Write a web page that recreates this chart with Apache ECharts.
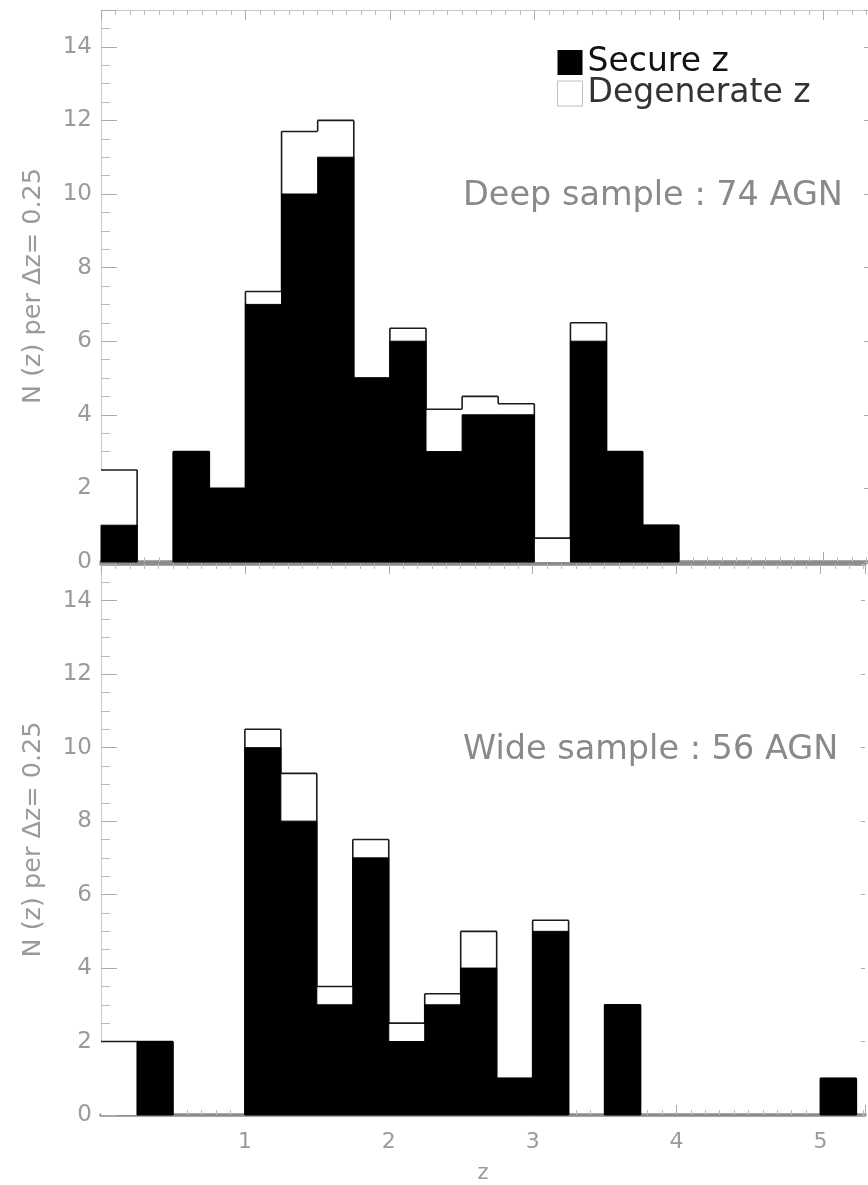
<!DOCTYPE html>
<html>
<head>
<meta charset="utf-8">
<script src="https://cdn.jsdelivr.net/npm/echarts@6/dist/echarts.min.js"></script>
<style>
  html, body { margin: 0; padding: 0; background: #fff; }
  #chart { width: 868px; height: 1185px; }
</style>
</head>
<body>
<div id="chart"></div>
<script>
// Redshift bins (left edges), width 0.25
const BIN_WIDTH = 0.25;
const zBinStart = [0, 0.25, 0.5, 0.75, 1.0, 1.25, 1.5, 1.75, 2.0, 2.25, 2.5,
                   2.75, 3.0, 3.25, 3.5, 3.75, 4.0, 4.25, 4.5, 4.75, 5.0, 5.25];

// Deep sample: secure redshifts and secure + degenerate total per bin
const deepSecure = [1, 0, 3, 2, 7, 10, 11, 5, 6, 3, 4, 4, 0, 6, 3, 1, 0, 0, 0, 0, 0, 0];
const deepTotal  = [2.5, 0, 3, 2, 7.35, 11.7, 12, 5, 6.35, 4.15, 4.5, 4.3, 0.65, 6.5, 3, 1, 0, 0, 0, 0, 0, 0];

// Wide sample
const wideSecure = [0, 2, 0, 0, 10, 8, 3, 7, 2, 3, 4, 1, 5, 0, 3, 0, 0, 0, 0, 0, 1, 0];
const wideTotal  = [2, 2, 0, 0, 10.5, 9.3, 3.5, 7.5, 2.5, 3.3, 5, 1, 5.3, 0, 3, 0, 0, 0, 0, 0, 1, 0];

// Axis tick labels
const xTickLabels = ['1', '2', '3', '4', '5'];
const yTickLabels = ['0', '2', '4', '6', '8', '10', '12', '14'];

const panelTitles = ['Deep sample : 74 AGN', 'Wide sample : 56 AGN'];
const yTitle = 'N (z) per \u0394z= 0.25';
const xTitle = 'z';

const X_MAX = 5.31;
const Y_MAX = 15;
const FONT = '"DejaVu Sans", sans-serif';
const OUTLINE = '#1a1a1a';

function securePoints(sec) {
  return sec.map((v, i) => [zBinStart[i], v]);
}
function totalPoints(tot) {
  return tot.map((v, i) => [zBinStart[i], v, i > 0 ? tot[i - 1] : 0]);
}

// Filled black histogram for secure redshifts
function renderSecure(params, api) {
  const x0 = api.value(0), v = api.value(1);
  if (!(v > 0)) return { type: 'group', children: [] };
  const bl = api.coord([x0, 0]);
  const tr = api.coord([x0 + BIN_WIDTH, v]);
  return {
    type: 'rect',
    shape: { x: bl[0], y: tr[1], width: tr[0] - bl[0], height: bl[1] - tr[1] },
    style: { fill: '#000', stroke: '#000', lineWidth: 1 }
  };
}

// Step outline of the full histogram (secure + degenerate)
function renderTotal(params, api) {
  const x0 = api.value(0), v = api.value(1), prev = api.value(2);
  const children = [];
  const bl = api.coord([x0, 0]);
  const tr = api.coord([x0 + BIN_WIDTH, v]);
  const stroke = { stroke: OUTLINE, lineWidth: 1.6 };
  if (v > 0) {
    children.push({ type: 'rect',
      shape: { x: bl[0], y: tr[1], width: tr[0] - bl[0], height: bl[1] - tr[1] },
      style: { fill: '#fff' } });
    children.push({ type: 'line',
      shape: { x1: bl[0], y1: tr[1], x2: tr[0], y2: tr[1] }, style: stroke });
  }
  if (x0 > 0 && prev !== v) {
    const a = api.coord([x0, prev]);
    const b = api.coord([x0, v]);
    children.push({ type: 'line',
      shape: { x1: a[0], y1: a[1], x2: b[0], y2: b[1] }, style: stroke });
  }
  return { type: 'group', children: children };
}

const grids = [
  { left: 101, top: 10, right: 0, height: 552 },
  { left: 101, top: 564, right: 0, height: 551 }
];

function xAxisFor(gridIndex, position, showLabels, lineStyle) {
  return {
    type: 'value', gridIndex: gridIndex, position: position,
    min: 0, max: X_MAX, interval: 1,
    axisLine: { show: true, onZero: false, lineStyle: lineStyle },
    axisTick: { show: true, inside: true, length: 10, lineStyle: { color: '#aaa', width: 1 } },
    minorTick: { show: true, splitNumber: 10, length: 5, lineStyle: { color: '#bbb', width: 1 } },
    splitLine: { show: false },
    axisLabel: {
      show: showLabels, color: '#9a9a9a', fontSize: 22, fontFamily: FONT, margin: 16,
      formatter: function (v) {
        const i = Math.round(v) - 1;
        return (Math.abs(v - Math.round(v)) < 1e-9 && i >= 0 && i < xTickLabels.length) ? xTickLabels[i] : '';
      }
    }
  };
}

function yAxisFor(gridIndex, position, showLabels) {
  const left = position === 'left';
  const ax = {
    type: 'value', gridIndex: gridIndex, position: position,
    min: 0, max: Y_MAX, interval: 2,
    axisLine: { show: left, onZero: false, lineStyle: { color: '#c8c8c8', width: 1 } },
    axisTick: { show: true, inside: true, length: left ? 16 : 4, lineStyle: { color: '#aaa', width: 1 } },
    minorTick: { show: left, splitNumber: 4, length: 9, lineStyle: { color: '#bbb', width: 1 } },
    splitLine: { show: false },
    axisLabel: {
      show: showLabels, color: '#9a9a9a', fontSize: 23, fontFamily: FONT, margin: 9,
      showMaxLabel: false,
      formatter: function (v) {
        const i = Math.round(v / 2);
        return (Math.abs(v - i * 2) < 1e-9 && i < yTickLabels.length) ? yTickLabels[i] : '';
      }
    }
  };
  if (showLabels) {
    ax.name = yTitle;
    ax.nameLocation = 'middle';
    ax.nameRotate = 90;
    ax.nameGap = 55;
    ax.nameTextStyle = { color: '#9a9a9a', fontSize: 25.5, fontFamily: FONT };
  }
  return ax;
}

const thinLine = { color: '#c8c8c8', width: 1 };
const baseLine = { color: '#8c8c8c', width: 3.5 };

const bottomX = xAxisFor(1, 'bottom', true, baseLine);
bottomX.name = xTitle;
bottomX.nameLocation = 'middle';
bottomX.nameGap = 48;
bottomX.nameTextStyle = { color: '#9a9a9a', fontSize: 21, fontFamily: FONT };

const option = {
  animation: false,
  backgroundColor: '#fff',
  grid: grids,
  title: [
    { text: panelTitles[0], left: 458, top: 174,
      textStyle: { color: '#8a8a8a', fontSize: 33.5, fontWeight: 'normal', fontFamily: FONT } },
    { text: panelTitles[1], left: 458, top: 728,
      textStyle: { color: '#8a8a8a', fontSize: 33.5, fontWeight: 'normal', fontFamily: FONT } }
  ],
  legend: {
    left: 552, top: 41, orient: 'vertical', itemGap: -2,
    itemWidth: 25, itemHeight: 25, icon: 'rect',
    selectedMode: false,
    textStyle: { fontSize: 33, fontFamily: FONT, color: '#111' },
    data: [
      { name: 'Secure z', itemStyle: { color: '#000' } },
      { name: 'Degenerate z', itemStyle: { color: '#fff', borderColor: '#c0c0c0', borderWidth: 1 },
        textStyle: { color: '#333' } }
    ]
  },
  xAxis: [
    xAxisFor(0, 'bottom', false, baseLine),
    xAxisFor(0, 'top', false, thinLine),
    bottomX,
    xAxisFor(1, 'top', false, baseLine)
  ],
  yAxis: [
    yAxisFor(0, 'left', true),
    yAxisFor(0, 'right', false),
    yAxisFor(1, 'left', true),
    yAxisFor(1, 'right', false)
  ],
  series: [
    { name: 'Degenerate z', type: 'custom', xAxisIndex: 0, yAxisIndex: 0, z: 2,
      renderItem: renderTotal, data: totalPoints(deepTotal), encode: { x: 0, y: 1 },
      itemStyle: { color: '#fff' } },
    { name: 'Secure z', type: 'custom', xAxisIndex: 0, yAxisIndex: 0, z: 3,
      renderItem: renderSecure, data: securePoints(deepSecure), encode: { x: 0, y: 1 },
      itemStyle: { color: '#000' } },
    { name: 'Degenerate z', type: 'custom', xAxisIndex: 2, yAxisIndex: 2, z: 2,
      renderItem: renderTotal, data: totalPoints(wideTotal), encode: { x: 0, y: 1 },
      itemStyle: { color: '#fff' } },
    { name: 'Secure z', type: 'custom', xAxisIndex: 2, yAxisIndex: 2, z: 3,
      renderItem: renderSecure, data: securePoints(wideSecure), encode: { x: 0, y: 1 },
      itemStyle: { color: '#000' } }
  ]
};

const chart = echarts.init(document.getElementById('chart'), null, { renderer: 'canvas' });
chart.setOption(option);
</script>
</body>
</html>
